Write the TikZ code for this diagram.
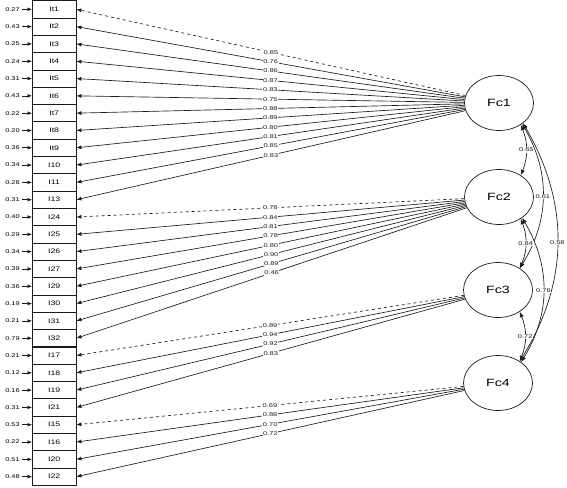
\documentclass[tikz,border=0pt]{standalone}
\usepackage{fontspec}
\setmainfont{Liberation Sans}[FakeStretch=1.35]
\usetikzlibrary{shapes.geometric, arrows.meta, positioning}
\definecolor{inkdark}{HTML}{1A1A1A}

\tikzset{
  itembox/.style={draw=inkdark, line width=0.7pt, minimum width=43.7pt, minimum height=17.3pt, inner sep=0pt, font=\fontsize{6.5}{6.5}\selectfont},
  errlab/.style={inner sep=0pt, font=\fontsize{5.5}{5.5}\selectfont},
  errarrow/.style={inkdark, line width=0.6pt, shorten <=2pt, -{Latex[length=4.5pt,width=3.8pt]}},
  factor/.style={draw=inkdark, ellipse, line width=0.7pt, minimum width=69pt, minimum height=55pt, inner sep=0pt, font=\fontsize{10.5}{10.5}\selectfont},
  load/.style={inkdark, line width=0.65pt, -{Latex[length=5pt,width=4pt]}},
  loadlab/.style={fill=white, inner sep=0.6pt, font=\fontsize{5.5}{5.5}\selectfont},
  covar/.style={inkdark, line width=0.65pt, {Latex[length=5.5pt,width=4.2pt]}-{Latex[length=5.5pt,width=4.2pt]}}
}

\begin{document}
\begin{tikzpicture}[x=1pt, y=-1pt]
  \useasboundingbox (0,0) rectangle (567,487);

  % Item column with error variances
  \foreach \lbl/\err [count=\i] in {It1/0.27, It2/0.43, It3/0.25, It4/0.24, It5/0.31, It6/0.43, It7/0.22, It8/0.20, It9/0.36, I10/0.34, I11/0.28, I13/0.31, I24/0.40, I25/0.29, I26/0.34, I27/0.39, I29/0.36, I30/0.19, I31/0.21, I32/0.79, I17/0.21, I18/0.12, I19/0.16, I21/0.31, I15/0.53, I16/0.22, I20/0.51, I22/0.48} {
    \node[itembox] (it\i) at (54.2, {9.3+(\i-1)*17.31}) {\lbl};
    \node[errlab] (err\i) at (12.5, {9.3+(\i-1)*17.31}) {\err};
    \draw[errarrow] (err\i) -- (it\i.west);
  }

  % Factors
  \node[factor] (fc1) at (499,103) {Fc1};
  \node[factor] (fc2) at (499,197) {Fc2};
  \node[factor] (fc3) at (498,290) {Fc3};
  \node[factor] (fc4) at (498,383) {Fc4};

  % Loadings - Fc1
  \draw[load, dashed] (fc1) -- node[loadlab] {0.85} (it1.east);
  \foreach \i/\lam in {2/0.76, 3/0.86, 4/0.87, 5/0.83, 6/0.75, 7/0.88, 8/0.89, 9/0.80, 10/0.81, 11/0.85, 12/0.83}
    \draw[load] (fc1) -- node[loadlab] {\lam} (it\i.east);

  % Loadings - Fc2
  \draw[load, dashed] (fc2) -- node[loadlab] {0.78} (it13.east);
  \foreach \i/\lam in {14/0.84, 15/0.81, 16/0.78, 17/0.80, 18/0.90, 19/0.89, 20/0.46}
    \draw[load] (fc2) -- node[loadlab] {\lam} (it\i.east);

  % Loadings - Fc3
  \draw[load, dashed] (fc3) -- node[loadlab] {0.89} (it21.east);
  \foreach \i/\lam in {22/0.94, 23/0.92, 24/0.83}
    \draw[load] (fc3) -- node[loadlab] {\lam} (it\i.east);

  % Loadings - Fc4
  \draw[load, dashed] (fc4) -- node[loadlab] {0.69} (it25.east);
  \foreach \i/\lam in {26/0.88, 27/0.70, 28/0.72}
    \draw[load] (fc4) -- node[loadlab] {\lam} (it\i.east);

  % Factor covariances
  \draw[covar] (fc1.-45) to[bend left=22] node[loadlab] {0.65} (fc2.45);
  \draw[covar] (fc1.-42) to[bend left=31] node[loadlab] {0.61} (fc3.45);
  \draw[covar] (fc1.-40) to[bend left=31] node[loadlab] {0.58} (fc4.45);
  \draw[covar] (fc2.-45) to[bend left=22] node[loadlab] {0.84} (fc3.45);
  \draw[covar] (fc2.-42) to[bend left=31] node[loadlab] {0.76} (fc4.42);
  \draw[covar] (fc3.-45) to[bend left=22] node[loadlab] {0.72} (fc4.45);
\end{tikzpicture}
\end{document}
